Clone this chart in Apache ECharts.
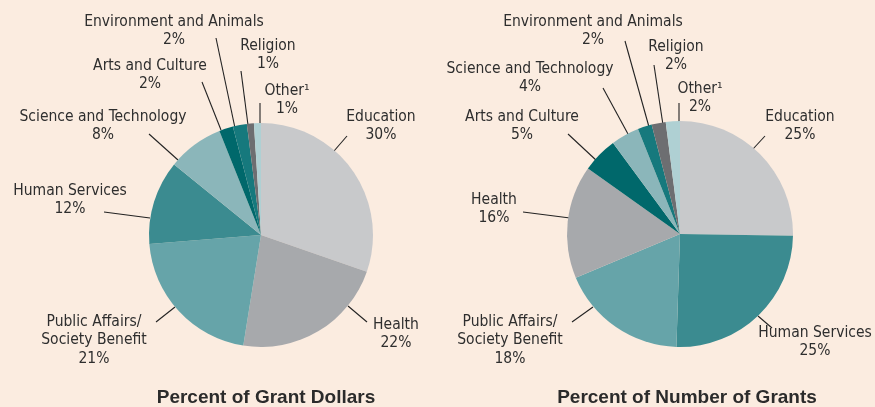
<!DOCTYPE html>
<html>
<head>
<meta charset="utf-8">
<script src="https://cdn.jsdelivr.net/npm/echarts@6/dist/echarts.min.js"></script>
<style>
  html, body { margin: 0; padding: 0; background: #fbece0; }
  #chart { width: 875px; height: 407px; }
</style>
</head>
<body>
<div id="chart"></div>
<script>
// Percent of grant dollars
const dollarNames = ['Education', 'Health', 'Public Affairs/\nSociety Benefit', 'Human Services',
  'Science and Technology', 'Arts and Culture', 'Environment and Animals', 'Religion', 'Other¹'];
const dollarValues = [30, 22, 21, 12, 8, 2, 2, 1, 1];

// Percent of number of grants
const grantNames = ['Education', 'Human Services', 'Public Affairs/\nSociety Benefit', 'Health',
  'Arts and Culture', 'Science and Technology', 'Environment and Animals', 'Religion', 'Other¹'];
const grantValues = [25, 25, 18, 16, 5, 4, 2, 2, 2];

const titles = ['Percent of Grant Dollars', 'Percent of Number of Grants'];

const colors = {
  'Education': '#c8c9cb',
  'Health': '#a7a9ac',
  'Public Affairs/\nSociety Benefit': '#66a4a9',
  'Human Services': '#3b8b90',
  'Science and Technology': '#8bb6ba',
  'Arts and Culture': '#00686b',
  'Environment and Animals': '#16797d',
  'Religion': '#6d6e71',
  'Other¹': '#afd0d3'
};

// label anchor [x, y] and leader line [x1, y1, x2, y2], per slice
const labelPos = [
  [
    [381, 126, 347, 136, 334, 151],
    [396, 334, 367, 322, 348, 306],
    [94, 340, 156, 322, 175, 307],
    [70, 200, 104, 212, 150, 218],
    [103, 126, 149, 134, 178, 160],
    [150, 75, 202, 82, 221, 130],
    [174, 31, 216, 38, 235, 128],
    [268, 55, 241, 71, 248, 125],
    [287, 100, 260, 103, 260, 123]
  ],
  [
    [800, 126, 765, 136, 753, 149],
    [815, 342, 772, 328, 758, 316],
    [510, 340, 572, 322, 593, 307],
    [494, 209, 523, 212, 570, 218],
    [522, 126, 568, 134, 597, 161],
    [530, 78, 603, 88, 628, 134],
    [593, 31, 625, 41, 649, 127],
    [676, 56, 654, 65, 663, 125],
    [700, 98, 679, 103, 679, 123]
  ]
];

const font = '"Liberation Sans Narrow", "DejaVu Sans Condensed", "Roboto Condensed", sans-serif';

function makePie(names, values, idx, center, radius) {
  return {
    type: 'pie',
    center: center,
    radius: radius,
    startAngle: 90,
    clockwise: true,
    animation: false,
    silent: true,
    avoidLabelOverlap: false,
    data: names.map((n, i) => ({ name: n, value: values[i], itemStyle: { color: colors[n] } })),
    label: {
      show: true,
      position: 'outside',
      formatter: p => p.name + '\n' + p.value + '%',
      fontFamily: font,
      fontSize: 15.5,
      lineHeight: 18.5,
      color: '#2e2e2e',
      align: 'center',
      overflow: 'none',
      width: 300
    },
    labelLine: {
      show: true,
      length: 10,
      length2: 0,
      lineStyle: { color: '#222', width: 1.1 }
    },
    labelLayout: function (params) {
      const p = labelPos[idx][params.dataIndex];
      return {
        x: p[0],
        y: p[1],
        align: 'center',
        verticalAlign: 'middle',
        labelLinePoints: [[p[2], p[3]], [p[4], p[5]], [p[4], p[5]]]
      };
    }
  };
}

const titleStyle = { fontFamily: '"Liberation Sans", Arial, sans-serif', fontSize: 19, fontWeight: 'bold', color: '#2b2b2b' };

const chart = echarts.init(document.getElementById('chart'));
chart.setOption({
  backgroundColor: '#fbece0',
  title: [
    { text: titles[0], left: 261, top: 383, textAlign: 'center', textStyle: titleStyle },
    { text: titles[1], left: 682, top: 383, textAlign: 'center', textStyle: titleStyle }
  ],
  series: [
    makePie(dollarNames, dollarValues, 0, [261, 235], 112),
    makePie(grantNames, grantValues, 1, [680, 234], 113)
  ]
});
</script>
</body>
</html>
